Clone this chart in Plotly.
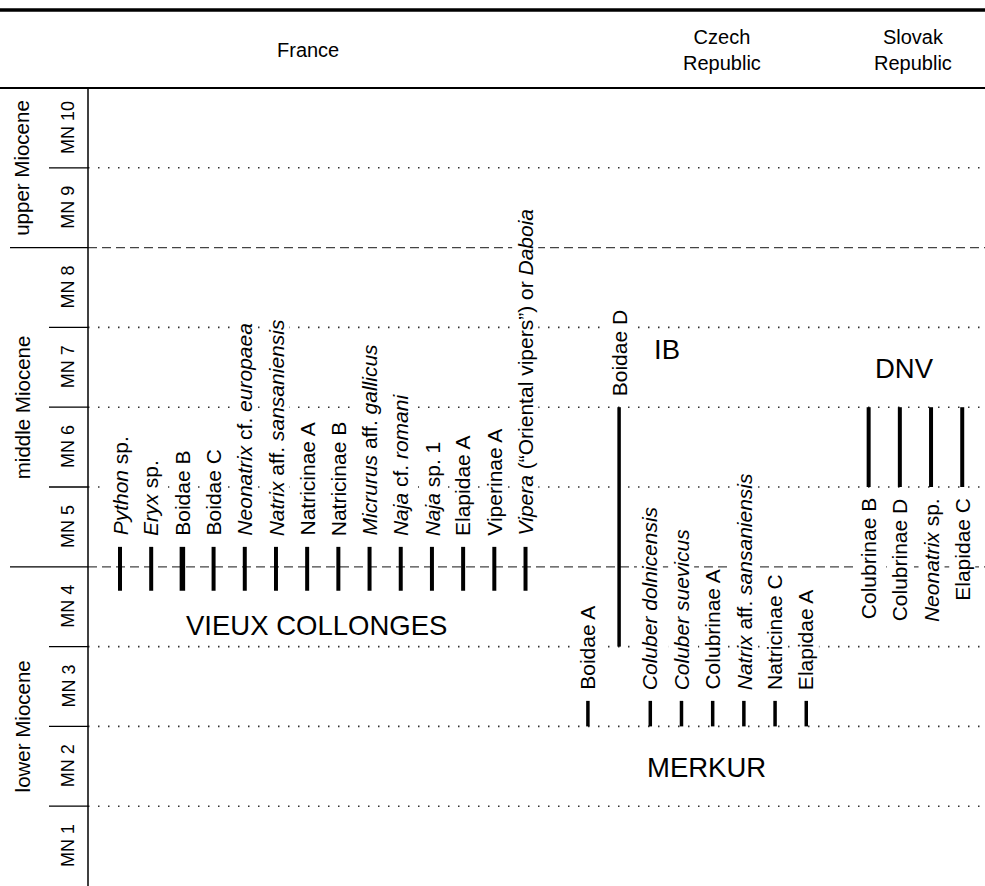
import plotly.graph_objects as go

# ---------------- data ----------------
zones = ["MN 1", "MN 2", "MN 3", "MN 4", "MN 5", "MN 6", "MN 7", "MN 8", "MN 9", "MN 10"]
epochs = ["lower Miocene", "middle Miocene", "upper Miocene"]
epoch_lo = [0, 4, 8]
epoch_hi = [4, 8, 10]
countries = ["France", "Czech<br>Republic", "Slovak<br>Republic"]

france_taxa = ["<i>Python</i> sp.", "<i>Eryx</i> sp.", "Boidae B", "Boidae C",
               "<i>Neonatrix</i> cf. <i>europaea</i>", "<i>Natrix</i> aff. <i>sansaniensis</i>",
               "Natricinae A", "Natricinae B", "<i>Micrurus</i> aff. <i>gallicus</i>",
               "<i>Naja</i> cf. <i>romani</i>", "<i>Naja</i> sp. 1", "Elapidae A", "Viperinae A",
               "<i>Vipera</i> (\u201cOriental vipers\u201d) or <i>Daboia</i>"]
france_slot = [0, 1, 2, 3, 4, 5, 6, 7, 8, 9, 10, 11, 12, 13]
france_first = [3.7, 3.7, 3.7, 3.7, 3.7, 3.7, 3.7, 3.7, 3.7, 3.7, 3.7, 3.7, 3.7, 3.7]
france_last = [4.25, 4.25, 4.25, 4.25, 4.25, 4.25, 4.25, 4.25, 4.25, 4.25, 4.25, 4.25, 4.25, 4.25]

merkur_taxa = ["Boidae A", "<i>Coluber dolnicensis</i>", "<i>Coluber suevicus</i>", "Colubrinae A",
               "<i>Natrix</i> aff. <i>sansaniensis</i>", "Natricinae C", "Elapidae A"]
merkur_slot = [15, 17, 18, 19, 20, 21, 22]
merkur_first = [2.0, 2.0, 2.0, 2.0, 2.0, 2.0, 2.0]
merkur_last = [2.32, 2.32, 2.32, 2.32, 2.32, 2.32, 2.32]

ib_taxa = ["Boidae D"]
ib_slot = [16]
ib_first = [3.0]
ib_last = [6.0]

dnv_taxa = ["Colubrinae B", "Colubrinae D", "<i>Neonatrix</i> sp.", "Elapidae C"]
dnv_slot = [24, 25, 26, 27]
dnv_first = [5.0, 5.0, 5.0, 5.0]
dnv_last = [6.0, 6.0, 6.0, 6.0]

sites = ["VIEUX COLLONGES", "MERKUR", "IB", "DNV"]
site_slot = [6.3, 18.8, 17.55, 25.15]
site_level = [3.27, 1.49, 6.72, 6.49]

# ---------------- style ----------------
FONT = "Liberation Sans, Arial, Helvetica, sans-serif"
W, H = 985, 886
X_RANGE = [-3.847, 27.73]
Y_RANGE = [0, 11.103]
AXIS_X = 88 / W          # paper x of the vertical axis line
thick_taxa = {"Boidae B": 5.5}

fig = go.Figure()

# boundary lines (MN and epoch)
for b in range(1, 10):
    is_epoch = b in epoch_lo[1:]
    fig.add_shape(type="line", xref="paper", yref="y", x0=AXIS_X, x1=1, y0=b, y1=b,
                  line=dict(color="#444" if is_epoch else "#333",
                            width=1.3 if is_epoch else 1.6,
                            dash="9px,5px" if is_epoch else "1.5px,8.5px"),
                  layer="below")
    # solid ticks in the left column
    fig.add_shape(type="line", xref="paper", yref="y",
                  x0=(10 / W) if is_epoch else (49 / W), x1=AXIS_X, y0=b, y1=b,
                  line=dict(color="black", width=1.3), layer="above")

# frame
fig.add_shape(type="line", xref="paper", yref="y", x0=AXIS_X, x1=AXIS_X, y0=0, y1=10,
              line=dict(color="black", width=1.5))
fig.add_shape(type="line", xref="paper", yref="y", x0=0, x1=1, y0=10, y1=10,
              line=dict(color="black", width=2))
fig.add_shape(type="line", xref="paper", yref="paper", x0=0, x1=1,
              y0=1 - 10 / H, y1=1 - 10 / H, line=dict(color="black", width=3.5))


def add_group(taxa, slots, first, last, width, label_pos):
    for t, s, a, b in zip(taxa, slots, first, last):
        plain = t.replace("<i>", "").replace("</i>", "")
        fig.add_trace(go.Scatter(x=[s, s], y=[a, b], mode="lines",
                                 line=dict(color="black", width=thick_taxa.get(plain, width)),
                                 hoverinfo="skip", showlegend=False))
        if label_pos == "above":
            fig.add_annotation(x=s, y=b, text=t, textangle=-90, showarrow=False,
                               xanchor="center", yanchor="bottom", yshift=9,
                               bgcolor="white", borderpad=1,
                               font=dict(family=FONT, size=21, color="black"))
        else:
            fig.add_annotation(x=s, y=a, text=t, textangle=-90, showarrow=False,
                               xanchor="center", yanchor="top", yshift=-9,
                               bgcolor="white", borderpad=1,
                               font=dict(family=FONT, size=21, color="black"))


add_group(france_taxa, france_slot, france_first, france_last, 4, "above")
add_group(merkur_taxa, merkur_slot, merkur_first, merkur_last, 3.5, "above")
add_group(ib_taxa, ib_slot, ib_first, ib_last, 3.5, "above")
add_group(dnv_taxa, dnv_slot, dnv_first, dnv_last, 4, "below")

# site names
for name, s, lv in zip(sites, site_slot, site_level):
    fig.add_annotation(x=s, y=lv, text=name, showarrow=False, xanchor="center", yanchor="middle",
                       font=dict(family=FONT, size=27.5, color="black"))

# zone labels
for i, z in enumerate(zones):
    fig.add_annotation(xref="paper", yref="y", x=68 / W, y=i + 0.5, text=z, textangle=-90,
                       showarrow=False, xanchor="center", yanchor="middle",
                       font=dict(family=FONT, size=18, color="black"))

# epoch labels
for e, lo, hi in zip(epochs, epoch_lo, epoch_hi):
    fig.add_annotation(xref="paper", yref="y", x=22 / W, y=(lo + hi) / 2, text=e, textangle=-90,
                       showarrow=False, xanchor="center", yanchor="middle",
                       font=dict(family=FONT, size=20.5, color="black"))

# country headers
country_x = [308 / W, 722 / W, 913 / W]
for c, cx in zip(countries, country_x):
    fig.add_annotation(xref="paper", yref="paper", x=cx, y=1 - 50 / H, text=c, showarrow=False,
                       xanchor="center", yanchor="middle",
                       font=dict(family=FONT, size=20, color="black"))

fig.update_layout(
    width=W, height=H,
    margin=dict(l=0, r=0, t=0, b=0),
    paper_bgcolor="white", plot_bgcolor="rgba(0,0,0,0)",
    xaxis=dict(range=X_RANGE, visible=False, fixedrange=True),
    yaxis=dict(range=Y_RANGE, visible=False, fixedrange=True),
    showlegend=False,
)

fig.write_html("out.html", config={"displayModeBar": False},
               post_script="document.body.style.margin='0px';document.body.style.padding='0px';"
                           "document.body.style.overflow='hidden';")
